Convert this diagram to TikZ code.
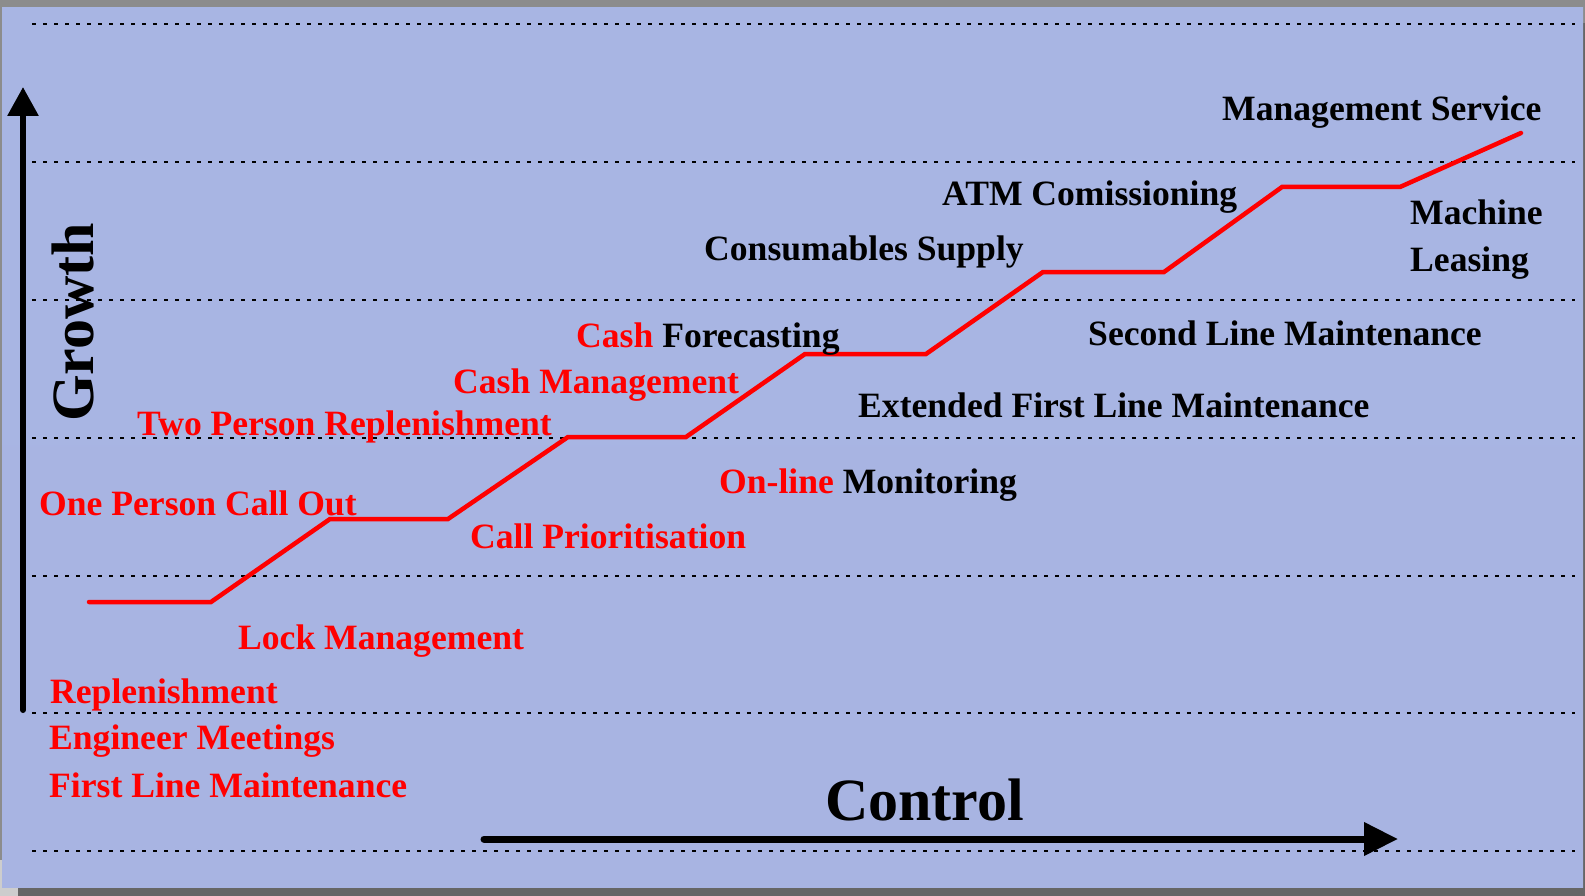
\documentclass[tikz,border=0pt]{standalone}
\usepackage{fontspec}
\setmainfont{Liberation Serif}
\usetikzlibrary{arrows.meta}
\definecolor{bgtop}{RGB}{168,181,227}
\definecolor{bgmid}{RGB}{193,204,253}
\definecolor{bgbot}{RGB}{168,180,226}
\definecolor{framegray}{RGB}{140,140,140}
\definecolor{shadowgray}{RGB}{102,102,102}
\definecolor{lightgray2}{RGB}{205,205,205}
\tikzset{
  lbl/.style={inner sep=0pt, anchor=base west, font=\bfseries\fontsize{35.6}{40}\selectfont},
  redlbl/.style={lbl, text=red},
  blacklbl/.style={lbl, text=black},
  biglbl/.style={inner sep=0pt, anchor=base west, font=\bfseries\fontsize{60}{68}\selectfont},
  gridline/.style={line width=2.2pt, dash pattern=on 4pt off 7pt},
  axisarrow/.style={line cap=round},
  stairline/.style={red, line width=4.5pt, line cap=round}
}
\begin{document}
\begin{tikzpicture}[x=1pt,y=-1pt]
\useasboundingbox (0,0) rectangle (1585,896);
% frame and shadow
\fill[framegray] (0,0) rectangle (1585,896);
\fill[shadowgray] (18,23) rectangle (1585,896);
\fill[lightgray2] (0,860) rectangle (18,896);
% slide background
\fill[top color=bgtop, middle color=bgmid, bottom color=bgbot] (2,8) rectangle (1583,887);
% dotted grid lines
\foreach \yy in {24,162,300,438,576,713,851}
  \draw[gridline] (32,\yy) -- (1575,\yy);
% axes
\coordinate (ybot) at (23,710);
\coordinate (ytop) at (23,87);
\coordinate (xleft) at (484,839);
\coordinate (xright) at (1398,839);
\draw[axisarrow, line width=6pt, -{Triangle[length=29pt,width=30pt]}] (ybot) -- (ytop);
\draw[axisarrow, line width=7pt, -{Triangle[length=34pt,width=32pt]}] (xleft) -- (xright);
% staircase
\draw[stairline] (89,602) -- (211,602) -- (330,519) -- (448,519) -- (568,437) -- (686,437)
  -- (805,354) -- (926,354) -- (1043,272) -- (1164,272) -- (1282,187) -- (1400,187) -- (1521,133);
% axis labels
\node[biglbl, rotate=90] (growth) at (93,422) {Growth};
\node[biglbl] (control) at (825,820) {Control};
% red labels
\node[redlbl] (flm) at (49,797) {First Line Maintenance};
\node[redlbl] (eng) at (49,749) {Engineer Meetings};
\node[redlbl] (repl) at (50,703) {Replenishment};
\node[redlbl] (lock) at (238,649) {Lock Management};
\node[redlbl] (opco) at (39,515) {One Person Call Out};
\node[redlbl] (callp) at (470,548) {Call Prioritisation};
\node[redlbl] (tpr) at (137,435) {Two Person Replenishment};
\node[redlbl] (cashm) at (453,393) {Cash Management};
\node[blacklbl] (cashf) at (576,347) {\textcolor{red}{Cash} Forecasting};
\node[blacklbl] (online) at (719,493) {\textcolor{red}{On-line} Monitoring};
% black labels
\node[blacklbl] (efl) at (858,417) {Extended First Line Maintenance};
\node[blacklbl] (slm) at (1088,345) {Second Line Maintenance};
\node[blacklbl] (cons) at (704,260) {Consumables Supply};
\node[blacklbl] (atm) at (942,206) {ATM Comissioning};
\node[blacklbl] (mgmt) at (1222,121) {Management Service};
\node[blacklbl] (mach) at (1410,225) {Machine};
\node[blacklbl] (leas) at (1410,272) {Leasing};
\end{tikzpicture}
\end{document}
